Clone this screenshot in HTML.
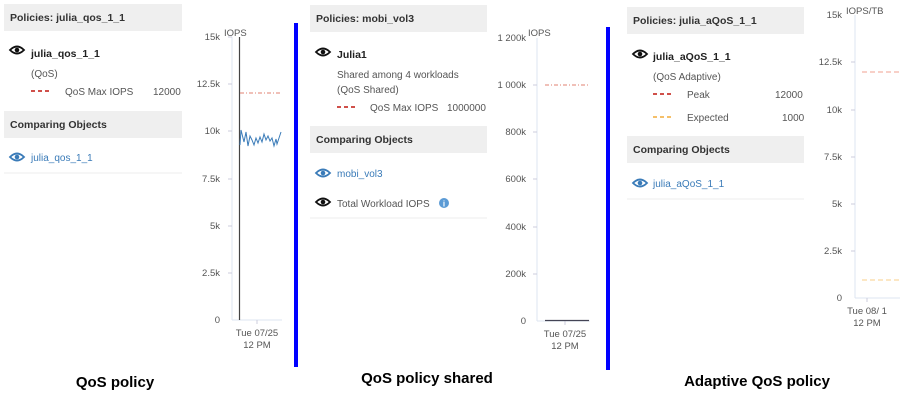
<!DOCTYPE html>
<html><head><meta charset="utf-8"><style>
html,body{margin:0;padding:0;background:#fff}
svg{display:block}
text{font-family:"Liberation Sans",sans-serif}
.h{font-size:10.5px;font-weight:bold;fill:#333}
.b{font-size:10.5px;font-weight:bold;fill:#222}
.t{font-size:10px;fill:#555}
.l{font-size:10px;fill:#3a7bb8}
.ax{font-size:9.5px;fill:#555}
.cap{font-size:15px;font-weight:bold;fill:#000}
</style></head><body>
<svg width="900" height="402" viewBox="0 0 900 402" xmlns="http://www.w3.org/2000/svg">
<defs>
<g id="eye"><path d="M-7,0 Q0,-7 7,0 Q0,7 -7,0Z" fill="none" stroke="currentColor" stroke-width="1.8"/><circle r="2.3" fill="currentColor"/></g>
</defs>
<!-- Panel 1 -->
<rect x="4" y="4" width="178" height="27" fill="#efefef"/>
<text class="h" x="10" y="21">Policies: julia_qos_1_1</text>
<use href="#eye" x="17" y="50" color="#111"/>
<text class="b" x="31" y="57">julia_qos_1_1</text>
<text class="t" x="31" y="77">(QoS)</text>
<line x1="31" y1="91" x2="52" y2="91" stroke="#d0504a" stroke-width="2" stroke-dasharray="4,3"/>
<text class="t" x="65" y="95">QoS Max IOPS</text>
<text class="t" x="153" y="95">12000</text>
<rect x="4" y="111" width="178" height="27" fill="#efefef"/>
<text class="h" x="10" y="128">Comparing Objects</text>
<use href="#eye" x="17" y="157" color="#3a7bb8"/>
<text class="l" x="31" y="161">julia_qos_1_1</text>
<line x1="4" y1="173" x2="182" y2="173" stroke="#eee"/>
<!-- Chart 1 -->
<line x1="232" y1="37" x2="232" y2="320" stroke="#dde4f0"/>
<line x1="232" y1="320" x2="282" y2="320" stroke="#dde4f0"/>
<g class="ax" text-anchor="end">
<text x="220" y="40">15k</text><text x="220" y="87">12.5k</text><text x="220" y="134">10k</text><text x="220" y="182">7.5k</text><text x="220" y="229">5k</text><text x="220" y="276">2.5k</text><text x="220" y="323">0</text></g>
<g stroke="#ccd" ><line x1="228" y1="37" x2="232" y2="37"/><line x1="228" y1="84" x2="232" y2="84"/><line x1="228" y1="131" x2="232" y2="131"/><line x1="228" y1="179" x2="232" y2="179"/><line x1="228" y1="226" x2="232" y2="226"/><line x1="228" y1="273" x2="232" y2="273"/><line x1="257" y1="320" x2="257" y2="324"/></g>
<text class="ax" x="224" y="36">IOPS</text>
<line x1="239.5" y1="37" x2="239.5" y2="320" stroke="#444" stroke-width="1.2"/>
<line x1="240" y1="93" x2="282" y2="93" stroke="#e08070" stroke-dasharray="4,2,1,2"/>
<polyline fill="none" stroke="#3a7bb8" stroke-width="1" points="240,145 241,130 243,138 244,142 246,132 248,146 250,136 252,140 254,145 256,138 258,143 260,137 262,142 264,134 266,140 268,136 270,141 272,138 274,146 276,139 277,144 279,138 281,132"/>
<text class="ax" x="257" y="336" text-anchor="middle">Tue 07/25</text>
<text class="ax" x="257" y="348" text-anchor="middle">12 PM</text>
<rect x="294" y="23" width="4" height="344" fill="#0000ff"/>
<!-- Panel 2 -->
<rect x="310" y="5" width="177" height="27" fill="#efefef"/>
<text class="h" x="316" y="22">Policies: mobi_vol3</text>
<use href="#eye" x="323" y="52" color="#111"/>
<text class="b" x="337" y="58">Julia1</text>
<text class="t" x="337" y="78">Shared among 4 workloads</text>
<text class="t" x="337" y="93">(QoS Shared)</text>
<line x1="337" y1="107" x2="358" y2="107" stroke="#d0504a" stroke-width="2" stroke-dasharray="4,3"/>
<text class="t" x="370" y="111">QoS Max IOPS</text>
<text class="t" x="447" y="111">1000000</text>
<rect x="310" y="126" width="177" height="27" fill="#efefef"/>
<text class="h" x="316" y="143">Comparing Objects</text>
<use href="#eye" x="323" y="173" color="#3a7bb8"/>
<text class="l" x="337" y="177">mobi_vol3</text>
<use href="#eye" x="323" y="202" color="#111"/>
<text class="t" x="337" y="207">Total Workload IOPS</text>
<circle cx="444" cy="203" r="5" fill="#5b9bd5"/><text x="444" y="206.5" text-anchor="middle" style="font-size:8px;fill:#fff;font-weight:bold">i</text>
<line x1="310" y1="218" x2="487" y2="218" stroke="#eee"/>
<!-- Chart 2 -->
<line x1="537" y1="38" x2="537" y2="321" stroke="#dde4f0"/>
<line x1="537" y1="321" x2="590" y2="321" stroke="#dde4f0"/>
<g class="ax" text-anchor="end">
<text x="526" y="41">1 200k</text><text x="526" y="88">1 000k</text><text x="526" y="135">800k</text><text x="526" y="182">600k</text><text x="526" y="230">400k</text><text x="526" y="277">200k</text><text x="526" y="324">0</text></g>
<g stroke="#ccd"><line x1="533" y1="85" x2="537" y2="85"/><line x1="533" y1="132" x2="537" y2="132"/><line x1="533" y1="179" x2="537" y2="179"/><line x1="533" y1="227" x2="537" y2="227"/><line x1="533" y1="274" x2="537" y2="274"/><line x1="565" y1="321" x2="565" y2="325"/></g>
<text class="ax" x="528" y="36">IOPS</text>
<line x1="545" y1="85" x2="590" y2="85" stroke="#e08070" stroke-dasharray="4,2,1,2"/>
<line x1="545" y1="320.5" x2="589" y2="320.5" stroke="#445" stroke-width="1.3"/>
<text class="ax" x="565" y="337" text-anchor="middle">Tue 07/25</text>
<text class="ax" x="565" y="349" text-anchor="middle">12 PM</text>
<rect x="606" y="27" width="4" height="343" fill="#0000ff"/>
<!-- Panel 3 -->
<rect x="627" y="7" width="177" height="27" fill="#efefef"/>
<text class="h" x="633" y="24">Policies: julia_aQoS_1_1</text>
<use href="#eye" x="640" y="54" color="#111"/>
<text class="b" x="653" y="60">julia_aQoS_1_1</text>
<text class="t" x="653" y="80">(QoS Adaptive)</text>
<line x1="653" y1="94" x2="674" y2="94" stroke="#d0504a" stroke-width="2" stroke-dasharray="4,3"/>
<text class="t" x="687" y="98">Peak</text><text class="t" x="775" y="98">12000</text>
<line x1="653" y1="117" x2="674" y2="117" stroke="#f5c06a" stroke-width="2" stroke-dasharray="4,3"/>
<text class="t" x="687" y="121">Expected</text><text class="t" x="782" y="121">1000</text>
<rect x="627" y="136" width="177" height="27" fill="#efefef"/>
<text class="h" x="633" y="153">Comparing Objects</text>
<use href="#eye" x="640" y="183" color="#3a7bb8"/>
<text class="l" x="653" y="187">julia_aQoS_1_1</text>
<line x1="627" y1="199" x2="804" y2="199" stroke="#eee"/>
<!-- Chart 3 -->
<line x1="855" y1="15" x2="855" y2="298" stroke="#dde4f0"/>
<line x1="855" y1="298" x2="900" y2="298" stroke="#dde4f0"/>
<g class="ax" text-anchor="end">
<text x="842" y="18">15k</text><text x="842" y="65">12.5k</text><text x="842" y="113">10k</text><text x="842" y="160">7.5k</text><text x="842" y="207">5k</text><text x="842" y="254">2.5k</text><text x="842" y="301">0</text></g>
<g stroke="#ccd"><line x1="851" y1="62" x2="855" y2="62"/><line x1="851" y1="110" x2="855" y2="110"/><line x1="851" y1="157" x2="855" y2="157"/><line x1="851" y1="204" x2="855" y2="204"/><line x1="851" y1="251" x2="855" y2="251"/><line x1="867" y1="298" x2="867" y2="302"/></g>
<text class="ax" x="846" y="14">IOPS/TB</text>
<line x1="862" y1="72" x2="900" y2="72" stroke="#f0a090" stroke-dasharray="5,3"/>
<line x1="862" y1="280" x2="900" y2="280" stroke="#f8cf88" stroke-dasharray="5,3"/>
<text class="ax" x="867" y="314" text-anchor="middle">Tue 08/ 1</text>
<text class="ax" x="867" y="326" text-anchor="middle">12 PM</text>
<!-- captions -->
<text class="cap" x="115" y="387" text-anchor="middle">QoS policy</text>
<text class="cap" x="427" y="383" text-anchor="middle">QoS policy shared</text>
<text class="cap" x="757" y="386" text-anchor="middle">Adaptive QoS policy</text>
</svg>
</body></html>
